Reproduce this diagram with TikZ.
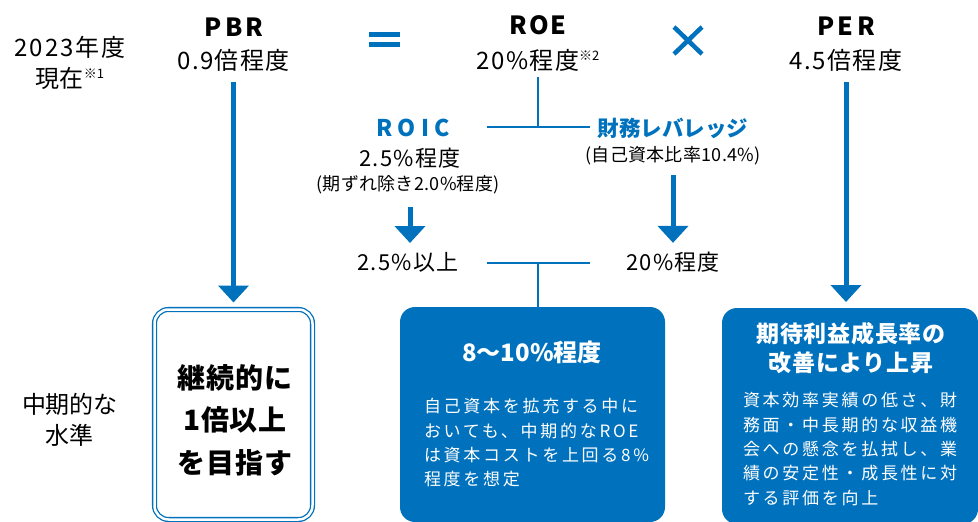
\documentclass[tikz,border=0pt]{standalone}
\usepackage{fontspec}
\setmainfont{Noto Sans CJK JP}
\usetikzlibrary{arrows.meta,calc}
\definecolor{nblue}{RGB}{0,113,188}
\newcommand{\supmark}[1]{\raisebox{9pt}{\fontsize{13}{13}\selectfont\addfontfeature{LetterSpace=0}#1}}
\begin{document}
\begin{tikzpicture}[x=1pt,y=-1pt,
  base/.style={inner sep=0pt, outer sep=0pt},
  lab/.style={base, font=\fontsize{24}{31}\selectfont, align=center},
  head/.style={base, font=\fontsize{25}{25}\selectfont\bfseries\addfontfeature{LetterSpace=14}},
  val/.style={base, font=\fontsize{24}{24}\selectfont\addfontfeature{LetterSpace=6}},
  bluehead/.style={base, text=nblue, font=\fontsize{23}{23}\selectfont\bfseries},
  midval/.style={base, font=\fontsize{22}{22}\selectfont\addfontfeature{LetterSpace=6}},
  note/.style={base, font=\fontsize{18}{18}\selectfont\addfontfeature{LetterSpace=1.5}},
  thinl/.style={draw=nblue, line width=1.5pt},
  bigarr/.style={draw=nblue, line width=5pt, -{Triangle[width=30pt,length=17pt]}},
  framebox/.style={base, draw=nblue, double=white, double distance=2.5pt, line width=1.3pt, rounded corners=14pt},
  bluebox/.style={base, fill=nblue, rounded corners=15pt},
  boxtitle/.style={base, text=white, font=\fontsize{23}{29.5}\selectfont\bfseries\addfontfeature{LetterSpace=3}, align=center},
  boxbody/.style={base, text=white, font=\fontsize{17}{24.3}\selectfont\addfontfeature{LetterSpace=16}, align=left}
]
\clip (0,0) rectangle (978,522);

% left labels
\node[lab] (yr) at (70,62.5) {\addfontfeature{LetterSpace=8}2023年度\\現在\supmark{※1}};
\node[lab] (mt) at (70,419.5) {\fontsize{24}{35}\selectfont 中期的な\\水準};

% top row
\node[head] (pbr) at (234,27) {PBR};
\node[val] (pbrv) at (233.5,60) {0.9倍程度};
\node[head, font=\fontsize{25}{25}\selectfont\bfseries\addfontfeature{LetterSpace=8}] (roe) at (538,25) {ROE};
\node[val] (roev) at (538,60) {20\%程度\supmark{※2}};
\node[head] (per) at (846,26) {PER};
\node[val] (perv) at (846,60) {4.5倍程度};

% operators
\fill[nblue] (369,32) rectangle (400,37);
\fill[nblue] (369,42) rectangle (400,47);
\draw[nblue, line width=4.5pt] (674,27) -- (702,54) (702,27) -- (674,54);

% middle tree
\node[bluehead, font=\fontsize{23}{23}\selectfont\bfseries\addfontfeature{LetterSpace=22}] (roic) at (413,128) {ROIC};
\node[midval] (roicv) at (410,158) {2.5\%程度};
\node[note] (roicn) at (408,185) {(期ずれ除き2.0\%程度)};
\node[bluehead, font=\fontsize{21.5}{21.5}\selectfont\bfseries] (lev) at (673,128) {財務レバレッジ};
\node[note] (levn) at (673,156) {(自己資本比率10.4\%)};
\node[midval] (roict) at (408,262) {2.5\%以上};
\node[midval] (levt) at (673,262) {20\%程度};

\coordinate (topj) at (538,127);
\coordinate (topL) at (487,127);
\coordinate (topR) at (590,127);
\coordinate (botj) at (538,263);
\coordinate (botL) at (487,263);
\coordinate (botR) at (590,263);

% boxes
\node[framebox, minimum width=158pt, minimum height=210pt] (box1) at (233.5,414.5) {};
\node[base, font=\fontsize{28}{42.5}\selectfont\bfseries\addfontfeature{LetterSpace=3}, align=center] (box1t) at (235,420) {継続的に\\1倍以上\\を目指す};

\node[bluebox, minimum width=265pt, minimum height=215pt] (box2) at (532.5,414.5) {};
\node[boxtitle, font=\fontsize{24}{24}\selectfont\bfseries] (box2t) at (532,352) {8〜10\%程度};
\node[boxbody, anchor=west] (box2b) at (424,443) {自己資本を拡充する中に\\おいても、中期的なROE\\は資本コストを上回る8\%\\程度を想定};

\node[bluebox, minimum width=256pt, minimum height=216pt] (box3) at (850,416) {};
\node[boxtitle] (box3t) at (851,348) {期待利益成長率の\\改善により上昇};
\node[boxbody, anchor=west] (box3b) at (743,449) {資本効率実績の低さ、財\\務面・中長期的な収益機\\会への懸念を払拭し、業\\績の安定性・成長性に対\\する評価を向上};

% connectors
\draw[thinl, shorten <=6pt] (roev.south) -- (topj);
\draw[thinl] (topL) -- (topR);
\draw[thinl] (botL) -- (botR);
\draw[thinl] (botj) -- (botj |- box2.north);
\draw[bigarr, shorten <=11pt, shorten >=7pt] (pbrv.south) -- (pbrv.south |- box1.north);
\draw[bigarr, shorten <=11pt, shorten >=6pt] (perv.south) -- (perv.south |- box3.north);
\draw[bigarr, shorten <=13pt, shorten >=9pt] (roicn.south -| roicv.south) -- (roicv.south |- roict.north);
\draw[bigarr, shorten <=10pt, shorten >=9pt] (levn.south) -- (levt.north);
\end{tikzpicture}
\end{document}
